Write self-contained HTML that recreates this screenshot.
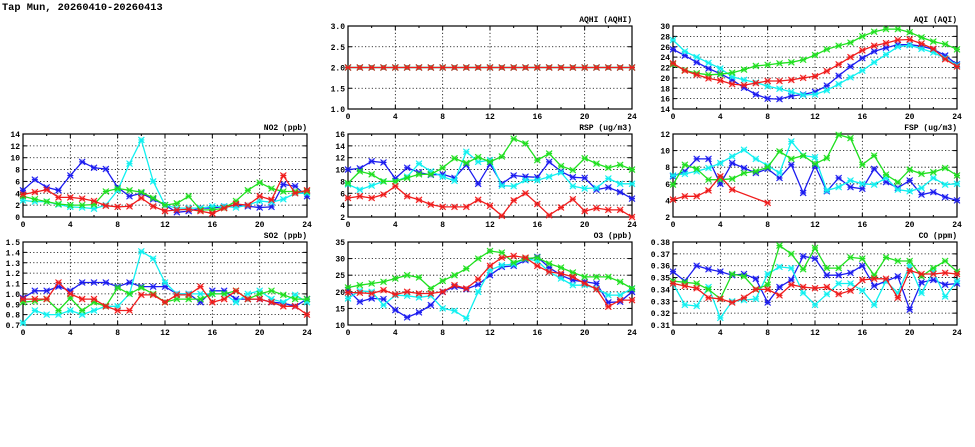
<!DOCTYPE html>
<html><head><meta charset="utf-8">
<style>
body{margin:0;background:#fff;width:975px;height:447px;overflow:hidden}
svg{display:block}
text{font-family:"Liberation Mono","DejaVu Sans Mono",monospace;font-weight:bold;font-size:8px;fill:#000}
</style></head>
<body>
<svg id="chart" width="975" height="447" viewBox="0 0 975 447" xmlns="http://www.w3.org/2000/svg">
<text x="2" y="10" style="font-size:10.3px">Tap Mun, 20260410-20260413</text>
</svg>
<script>
const hours=[0,1,2,3,4,5,6,7,8,9,10,11,12,13,14,15,16,17,18,19,20,21,22,23,24];
const xTicks=[0,4,8,12,16,20,24];
const seriesColors=["#1c1cf0","#10f0f0","#20e020","#f01c1c"];

const aqhiBlue=Array(25).fill(2.0), aqhiCyan=Array(25).fill(2.0), aqhiGreen=Array(25).fill(2.0), aqhiRed=Array(25).fill(2.0);
const aqhiTicks=[1.0,1.5,2.0,2.5,3.0];

const aqiBlue=[25.5,24.3,23.0,21.8,20.8,19.6,18.1,16.8,16.0,15.9,16.5,16.8,17.3,18.5,20.4,22.2,23.8,25.1,25.8,26.4,26.4,26.1,25.5,24.3,22.6];
const aqiCyan=[27.3,25.1,24.0,22.9,21.8,20.2,19.6,19.1,18.4,17.9,17.3,16.7,16.8,17.6,18.8,20.1,21.4,23.0,24.5,26.0,26.3,25.6,24.9,23.8,22.4];
const aqiGreen=[22.6,21.5,20.9,20.6,20.7,21.0,21.6,22.3,22.5,22.8,23.0,23.5,24.4,25.5,26.2,26.8,28.0,28.9,29.4,29.4,28.8,27.8,27.0,26.5,25.5];
const aqiRed=[22.8,21.4,20.6,19.9,19.5,18.8,18.6,19.0,19.4,19.4,19.6,20.0,20.3,21.3,22.6,24.0,25.3,26.2,26.7,27.3,27.4,26.6,25.6,23.6,22.2];
const aqiTicks=[14,16,18,20,22,24,26,28,30];

const no2Blue=[4.5,6.3,5.0,4.5,7.0,9.3,8.3,8.1,5.0,3.5,4.0,3.0,2.0,0.8,1.0,1.5,1.5,1.8,2.0,1.8,1.6,1.7,5.5,5.2,3.5];
const no2Cyan=[2.8,2.6,2.6,2.1,1.7,1.6,1.4,2.0,4.5,9.0,13.0,6.0,2.0,1.5,1.5,1.5,1.8,1.8,1.6,2.0,2.7,2.5,3.0,4.0,4.0];
const no2Green=[3.5,3.0,2.6,2.2,2.0,2.0,2.1,4.3,4.8,4.5,4.2,3.2,2.0,2.3,3.5,1.2,1.2,1.5,2.7,4.5,5.8,4.8,4.3,4.3,4.3];
const no2Red=[3.8,4.2,4.6,3.3,3.3,3.1,2.7,1.9,1.7,1.8,3.2,1.8,1.0,1.2,1.3,1.0,0.6,1.5,2.2,2.0,3.5,2.9,7.0,4.0,4.5];
const no2Ticks=[0,2,4,6,8,10,12,14];

const rspBlue=[10,10.2,11.4,11.2,8.5,10.3,9.5,9.1,9.2,8.6,10.8,7.6,10.9,7.6,9.0,8.8,8.7,11.3,9.7,8.7,8.6,6.6,7.0,6.2,5.1];
const rspCyan=[7.5,6.6,7.3,8.0,8.0,8.8,11.0,9.7,8.8,8.1,13.0,11.3,11.6,7.3,7.2,8.2,8.2,8.8,9.5,7.2,6.8,6.9,8.5,7.6,7.6];
const rspGreen=[7.7,9.7,9.2,8.0,8.0,8.6,9.2,9.2,10.3,11.9,11.1,12.1,11.3,12.2,15.2,14.4,11.6,12.7,10.6,9.9,11.9,11.0,10.3,10.8,10.0];
const rspRed=[5.2,5.5,5.2,5.8,7.2,5.5,4.9,4.1,3.7,3.7,3.7,4.9,3.9,2.2,4.8,6.0,4.2,2.3,3.6,5.0,3.0,3.5,3.2,3.2,2.0];
const rspTicks=[2,4,6,8,10,12,14,16];

const fspBlue=[6.9,7.5,9.0,9.0,6.0,8.5,7.9,7.3,7.8,6.7,8.3,4.9,8.2,5.1,6.7,5.6,5.4,7.8,6.2,5.5,6.4,4.7,5.0,4.4,4.0];
const fspCyan=[7.0,7.2,7.5,7.9,8.5,9.3,10.1,9.0,8.2,7.3,11.1,9.4,9.2,5.2,5.6,6.4,6.0,5.9,6.7,5.3,5.1,5.5,6.7,5.9,6.0];
const fspGreen=[5.9,8.3,7.8,6.5,6.5,6.6,7.3,7.5,8.0,9.9,9.0,9.4,8.4,9.1,11.9,11.5,8.3,9.4,7.1,6.2,7.7,7.2,7.4,7.9,7.0];
const fspRed=[4.1,4.5,4.5,5.2,6.9,5.3,null,null,3.7,null,null,null,null,null,null,null,null,null,null,null,null,null,null,null,null];
const fspTicks=[2,4,6,8,10,12];

const so2Blue=[0.96,1.03,1.03,1.07,1.03,1.11,1.11,1.11,1.07,1.11,1.07,1.07,1.07,1.00,1.00,0.92,1.03,1.03,0.95,0.95,0.95,0.92,0.91,0.88,0.95];
const so2Cyan=[0.72,0.84,0.80,0.80,0.84,0.80,0.84,0.88,0.88,1.00,1.41,1.34,1.11,1.00,1.00,1.00,1.00,1.00,0.92,1.00,1.03,0.95,0.92,0.99,0.92];
const so2Green=[0.92,0.93,0.95,0.84,0.96,0.84,0.92,0.88,1.06,1.00,1.06,1.00,0.92,0.95,0.95,0.95,1.00,1.00,1.03,0.95,1.00,1.03,0.99,0.95,0.95];
const so2Red=[0.95,0.95,0.95,1.11,1.00,0.95,0.95,0.88,0.84,0.84,0.99,0.99,0.92,0.99,0.99,1.07,0.92,0.95,1.03,0.95,0.95,0.92,0.88,0.88,0.80];
const so2Ticks=[0.7,0.8,0.9,1.0,1.1,1.2,1.3,1.4,1.5];

const o3Blue=[20.5,17.0,18.0,17.8,14.5,12.3,13.8,16.0,20.0,21.5,20.8,22.2,25.0,27.5,27.8,29.5,30.5,27.3,25.0,23.5,23.0,22.5,16.8,17.0,20.0];
const o3Cyan=[18.0,20.3,20.0,16.0,19.0,18.8,18.3,18.8,15.0,14.3,12.0,20.0,26.5,28.0,28.3,30.0,29.3,26.0,24.0,22.0,22.0,21.0,19.0,19.0,21.0];
const o3Green=[21.3,22.0,22.5,23.0,24.0,25.0,24.3,21.0,23.3,25.0,27.0,30.0,32.3,31.8,28.8,30.0,30.3,28.5,27.3,25.8,24.5,24.5,24.5,23.0,21.0];
const o3Red=[19.8,19.7,19.5,20.5,19.2,20.0,19.5,19.5,20.0,22.0,21.0,23.8,27.8,30.3,30.8,30.3,27.8,26.0,25.5,24.5,22.5,20.8,15.5,17.5,17.5];
const o3Ticks=[10,15,20,25,30,35];

const coBlue=[.355,.347,.360,.357,.355,.352,.353,.349,.329,.342,.348,.368,.366,.352,.352,.354,.360,.343,.347,.351,.323,.346,.348,.344,.345];
const coCyan=[.345,.327,.326,.342,.316,.330,.331,.332,.353,.359,.358,.337,.327,.336,.345,.345,.339,.327,.347,.337,.360,.337,.355,.334,.347];
const coGreen=[.347,.346,.345,.340,.332,.353,.351,.340,.344,.377,.370,.357,.375,.358,.358,.367,.366,.352,.367,.364,.364,.351,.358,.364,.355];
const coRed=[.345,.343,.341,.333,.332,.329,.333,.340,.340,.335,.344,.342,.341,.342,.336,.339,.348,.349,.349,.333,.356,.353,.353,.354,.353];
const coTicks=[0.31,0.32,0.33,0.34,0.35,0.36,0.37,0.38];

const NS="http://www.w3.org/2000/svg";
const svg=document.getElementById('chart');
function mk(tag,attrs,parent){const e=document.createElementNS(NS,tag);for(const k in attrs)e.setAttribute(k,attrs[k]);(parent||svg).appendChild(e);return e;}

function panel(key,title,L,T,R,B,ticks,dec,series){
  const g=mk('g',{});
  
  
  const ymin=ticks[0],ymax=ticks[ticks.length-1];
  const xs=v=>L+(v-0)/24*(R-L);
  const ys=v=>B-(v-ymin)/(ymax-ymin)*(B-T);
  ticks.forEach((t,i)=>{
    const y=ys(t);
    if(i>0&&i<ticks.length-1){const gl=mk('line',{x1:L,x2:R,y1:y,y2:y,stroke:'#000','stroke-width':0.8,'stroke-dasharray':'1.2,2.2'},g);
      }
    mk('line',{x1:L,x2:L+4,y1:y,y2:y,stroke:'#000'},g);
    mk('line',{x1:R-4,x2:R,y1:y,y2:y,stroke:'#000'},g);
    const tl=mk('text',{x:L-3,y:y+3,'text-anchor':'end'},g);tl.textContent=t.toFixed(dec);
    
  });
  xTicks.forEach((t,i)=>{
    const x=xs(t);
    if(i>0&&i<xTicks.length-1){const gl=mk('line',{x1:x,x2:x,y1:T,y2:B,stroke:'#000','stroke-width':0.8,'stroke-dasharray':'1.2,2.2'},g);
      }
    mk('line',{x1:x,x2:x,y1:B,y2:B-4,stroke:'#000'},g);
    mk('line',{x1:x,x2:x,y1:T,y2:T+4,stroke:'#000'},g);
    const tl=mk('text',{x:x,y:B+10,'text-anchor':'middle'},g);tl.textContent=t;
    
  });
  for(let h=2;h<24;h+=4){const x=xs(h);mk('line',{x1:x,x2:x,y1:B,y2:B-2,stroke:'#000'},g);mk('line',{x1:x,x2:x,y1:T,y2:T+2,stroke:'#000'},g);}
  const fr=mk('rect',{x:L,y:T,width:R-L,height:B-T,fill:'none',stroke:'#000','stroke-width':1.2},g);
  
  const tt=mk('text',{x:R,y:T-4,'text-anchor':'end'},g);tt.textContent=title;
  
  const names=['blue','cyan','green','red'];
  series.forEach((vals,si)=>{
    const c=seriesColors[si];
    const pts=[];
    vals.forEach((v,i)=>{if(v!==null&&v!==undefined)pts.push([xs(hours[i]),ys(v)]);});
    const pl=mk('polyline',{points:pts.map(p=>p[0].toFixed(1)+','+p[1].toFixed(1)).join(' '),fill:'none',stroke:c,'stroke-width':1.3},g);
    
    
    pts.forEach(p=>{
      const m=mk('g',{stroke:c,'stroke-width':1.1},g);
      
      
      const r=3;
      mk('rect',{x:p[0]-2.5,y:p[1]-2.5,width:5,height:5,fill:c,'fill-opacity':0.35,stroke:'none'},m);
      mk('line',{x1:p[0]-r,x2:p[0]+r,y1:p[1]-r,y2:p[1]+r},m);
      mk('line',{x1:p[0]-r,x2:p[0]+r,y1:p[1]+r,y2:p[1]-r},m);
      mk('line',{x1:p[0]-r,x2:p[0]+r,y1:p[1],y2:p[1]},m);
    });
  });
}
const C=[[23,307],[348,632],[673,957]], Rw=[[26,109],[134,217],[242,325]];
panel('aqhi','AQHI (AQHI)',C[1][0],Rw[0][0],C[1][1],Rw[0][1],aqhiTicks,1,[aqhiBlue,aqhiCyan,aqhiGreen,aqhiRed]);
panel('aqi','AQI (AQI)',C[2][0],Rw[0][0],C[2][1],Rw[0][1],aqiTicks,0,[aqiBlue,aqiCyan,aqiGreen,aqiRed]);
panel('no2','NO2 (ppb)',C[0][0],Rw[1][0],C[0][1],Rw[1][1],no2Ticks,0,[no2Blue,no2Cyan,no2Green,no2Red]);
panel('rsp','RSP (ug/m3)',C[1][0],Rw[1][0],C[1][1],Rw[1][1],rspTicks,0,[rspBlue,rspCyan,rspGreen,rspRed]);
panel('fsp','FSP (ug/m3)',C[2][0],Rw[1][0],C[2][1],Rw[1][1],fspTicks,0,[fspBlue,fspCyan,fspGreen,fspRed]);
panel('so2','SO2 (ppb)',C[0][0],Rw[2][0],C[0][1],Rw[2][1],so2Ticks,1,[so2Blue,so2Cyan,so2Green,so2Red]);
panel('o3','O3 (ppb)',C[1][0],Rw[2][0],C[1][1],Rw[2][1],o3Ticks,0,[o3Blue,o3Cyan,o3Green,o3Red]);
panel('co','CO (ppm)',C[2][0],Rw[2][0],C[2][1],Rw[2][1],coTicks,2,[coBlue,coCyan,coGreen,coRed]);
</script>
</body></html>
